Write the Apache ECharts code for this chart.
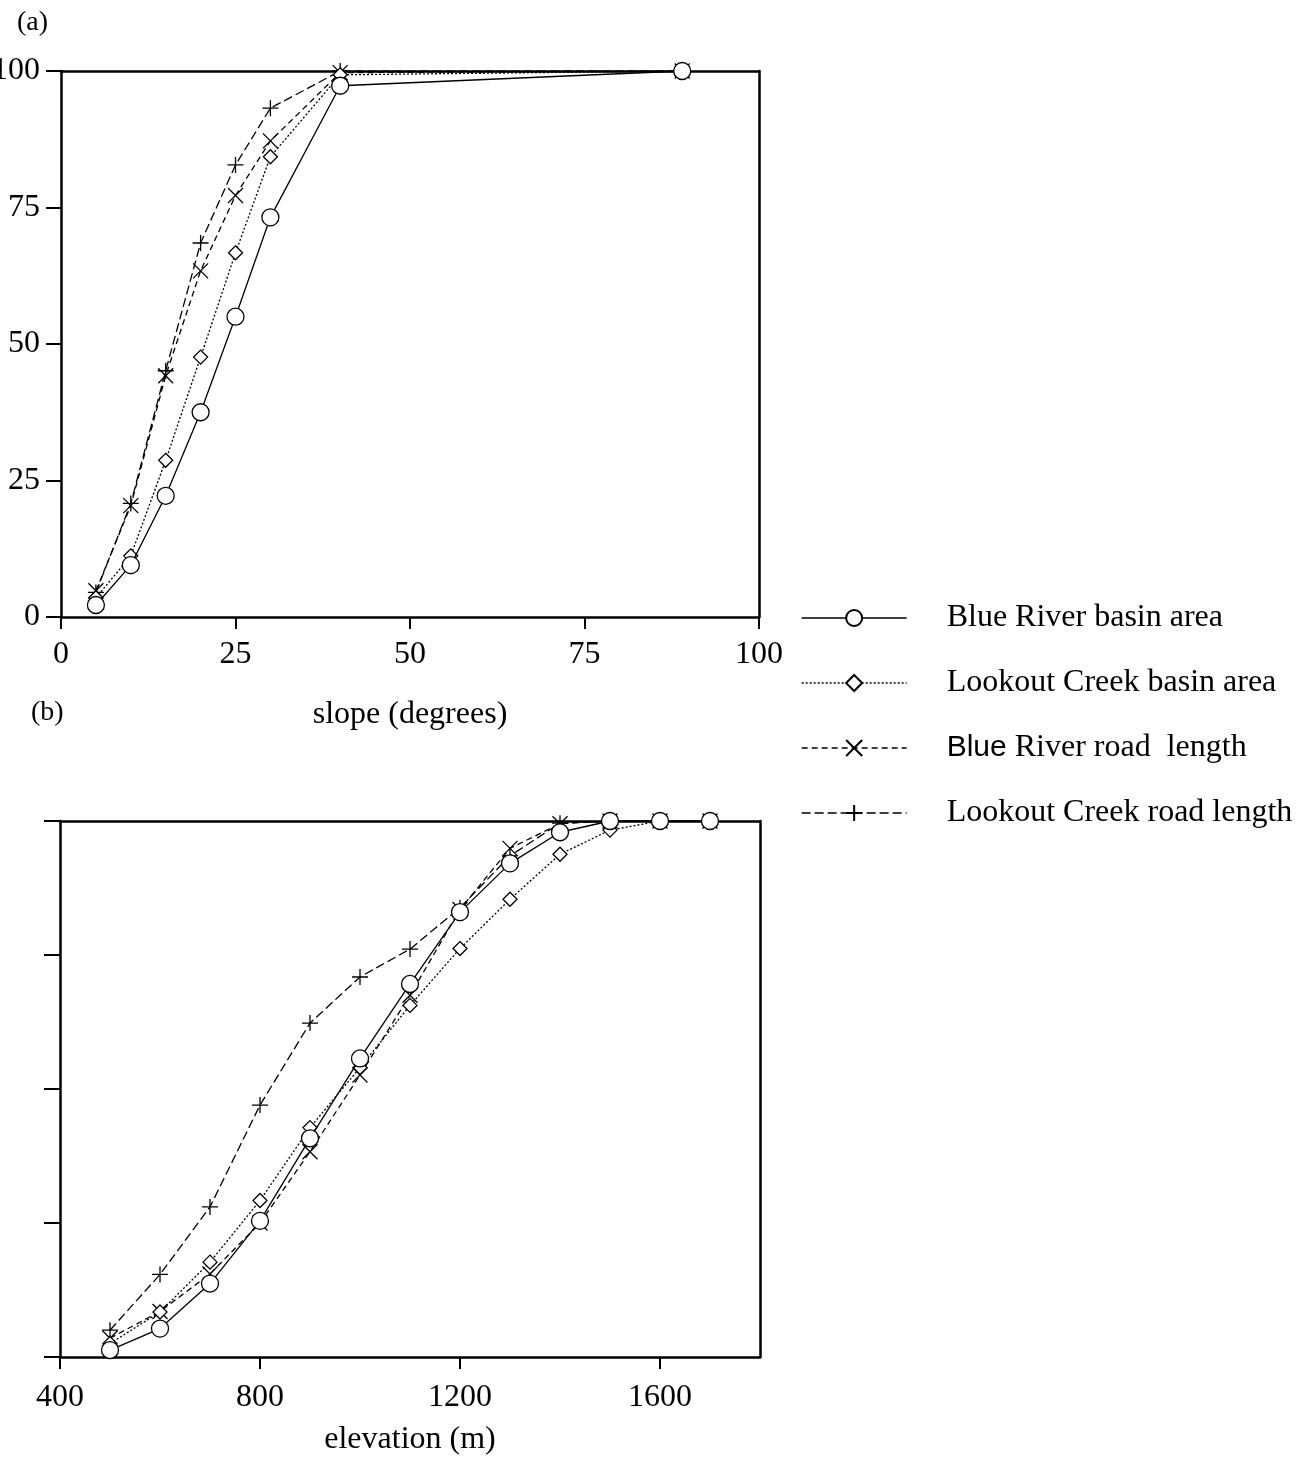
<!DOCTYPE html>
<html>
<head>
<meta charset="utf-8">
<script src="https://cdn.jsdelivr.net/npm/echarts@6/dist/echarts.min.js"></script>
<style>
  html, body { margin: 0; background: #fff; }
  #chart { width: 1309px; height: 1465px; }
</style>
</head>
<body>
<div id="chart"></div>
<script>
// (a) cumulative % by slope
const slope = [5, 10, 15, 20, 25, 30, 40, 89];
const slopeBlueBasin = [2.2, 9.5, 22.2, 37.5, 55.0, 73.2, 97.3, 100];
const slopeLookoutBasin = [3.5, 11.2, 28.7, 47.6, 66.7, 84.3, 99.3, 100];
const slopeBlueRoad = [4.8, 20.4, 44.2, 63.4, 77.2, 87.2, 99.7, 100];
const slopeLookoutRoad = [4.5, 20.8, 45.1, 68.5, 82.8, 93.2, 100, 100];

// (b) cumulative % by elevation
const elevation = [500, 600, 700, 800, 900, 1000, 1100, 1200, 1300, 1400, 1500, 1600, 1700];
const elevBlueBasin = [1.3, 5.3, 13.7, 25.4, 40.8, 55.7, 69.6, 83.0, 92.1, 97.9, 100, 100, 100];
const elevLookoutBasin = [2.5, 8.4, 17.7, 29.2, 42.8, 54.0, 65.6, 76.2, 85.4, 93.8, 98.3, 100, 100];
const elevBlueRoad = [3.5, 8.5, 15.5, 25.0, 38.3, 52.6, 67.5, 83.5, 94.9, 99.5, 100, 100, 100];
const elevLookoutRoad = [5.0, 15.4, 28.0, 47.0, 62.3, 70.9, 76.1, 83.8, 93.5, 99.6, 100, 100, 100];

const names = ['Blue River basin area', 'Lookout Creek basin area', 'Blue River road length', 'Lookout Creek road length'];
const elevTicks = [400, 800, 1200, 1600];

const FONT = 'Liberation Serif';
const BLACK = '#000';

// look of each series
const looks = {
  'Blue River basin area': { symbol: 'circle', size: 17, dash: 'solid', z: 6 },
  'Lookout Creek basin area': { symbol: 'diamond', size: 14, dash: [2, 2], z: 5 },
  'Blue River road length': { symbol: 'path://M0,0L10,10M10,0L0,10', size: 15, dash: [6, 4], z: 4 },
  'Lookout Creek road length': { symbol: 'path://M5,0L5,10M0,5L10,5', size: 16, dash: [9, 4], z: 3 }
};

// panel 0 uses axes 0, panel 1 uses axes 2 (1 and 3 are the frame lines)
function makeSeries(name, xs, ys, panel) {
  const l = looks[name];
  return {
    name: name,
    type: 'line',
    xAxisIndex: panel * 2,
    yAxisIndex: panel * 2,
    data: xs.map((x, i) => [x, ys[i]]),
    symbol: l.symbol,
    symbolSize: l.size,
    showAllSymbol: true,
    z: l.z,
    lineStyle: { color: BLACK, width: 1.3, type: l.dash },
    itemStyle: { color: '#fff', borderColor: BLACK, borderWidth: 1.3 },
    emphasis: { disabled: true }
  };
}

const axisLine = { show: true, onZero: false, lineStyle: { color: BLACK, width: 2.5 } };
const labelText = { color: BLACK, fontFamily: FONT, fontSize: 32 };
const frame = { axisLine: axisLine, axisTick: { show: false }, axisLabel: { show: false }, splitLine: { show: false } };

const chart = echarts.init(document.getElementById('chart'));
chart.setOption({
  animation: false,
  backgroundColor: '#fff',
  title: [
    { text: '(a)', left: 12, top: 4, textStyle: { fontFamily: FONT, fontSize: 28, fontWeight: 'normal', color: BLACK } },
    { text: '(b)', left: 26, top: 694, textStyle: { fontFamily: FONT, fontSize: 28, fontWeight: 'normal', color: BLACK } }
  ],
  grid: [
    { left: 61, right: 550, top: 71, bottom: 848, outerBoundsMode: 'none' },
    { left: 60, right: 549, top: 821, bottom: 108, outerBoundsMode: 'none' }
  ],
  legend: {
    orient: 'vertical',
    left: 796,
    top: 596,
    itemWidth: 105,
    itemHeight: 20,
    itemGap: 31,
    selectedMode: false,
    data: names,
    lineStyle: { width: 1.3 },
    textStyle: {
      color: BLACK, fontFamily: FONT, fontSize: 32, lineHeight: 34, padding: [0, 0, 0, 35],
      rich: { s: { fontFamily: 'Liberation Sans', fontSize: 30, color: BLACK } }
    },
    formatter: function (n) {
      return n === 'Blue River road length' ? '{s|Blue} River road  length' : n;
    }
  },
  xAxis: [
    Object.assign({
      gridIndex: 0, type: 'value', min: 0, max: 100, interval: 25,
      axisLine: axisLine,
      axisTick: { length: 12, lineStyle: { color: BLACK, width: 2 } },
      axisLabel: Object.assign({ margin: 22 }, labelText),
      splitLine: { show: false },
      name: 'slope (degrees)', nameLocation: 'middle', nameGap: 82,
      nameTextStyle: labelText
    }),
    Object.assign({ gridIndex: 0, type: 'value', min: 0, max: 100, position: 'top' }, frame),
    {
      gridIndex: 1, type: 'value', min: 400, max: 1800, interval: 400,
      axisLine: axisLine,
      axisTick: { length: 12, customValues: elevTicks, lineStyle: { color: BLACK, width: 2 } },
      axisLabel: Object.assign({ margin: 25, customValues: elevTicks, formatter: v => String(v) }, labelText),
      splitLine: { show: false },
      name: 'elevation (m)', nameLocation: 'middle', nameGap: 67,
      nameTextStyle: labelText
    },
    Object.assign({ gridIndex: 1, type: 'value', min: 400, max: 1800, position: 'top' }, frame)
  ],
  yAxis: [
    {
      gridIndex: 0, type: 'value', min: 0, max: 100, interval: 25,
      axisLine: axisLine,
      axisTick: { length: 15, lineStyle: { color: BLACK, width: 2 } },
      axisLabel: Object.assign({ margin: 21 }, labelText),
      splitLine: { show: false }
    },
    Object.assign({ gridIndex: 0, type: 'value', min: 0, max: 100, position: 'right' }, frame),
    {
      gridIndex: 1, type: 'value', min: 0, max: 100, interval: 25,
      axisLine: axisLine,
      axisTick: { length: 16, lineStyle: { color: BLACK, width: 2 } },
      axisLabel: { show: false },
      splitLine: { show: false }
    },
    Object.assign({ gridIndex: 1, type: 'value', min: 0, max: 100, position: 'right' }, frame)
  ],
  series: [
    makeSeries(names[0], slope, slopeBlueBasin, 0),
    makeSeries(names[1], slope, slopeLookoutBasin, 0),
    makeSeries(names[2], slope, slopeBlueRoad, 0),
    makeSeries(names[3], slope, slopeLookoutRoad, 0),
    makeSeries(names[0], elevation, elevBlueBasin, 1),
    makeSeries(names[1], elevation, elevLookoutBasin, 1),
    makeSeries(names[2], elevation, elevBlueRoad, 1),
    makeSeries(names[3], elevation, elevLookoutRoad, 1)
  ]
});
</script>
</body>
</html>
